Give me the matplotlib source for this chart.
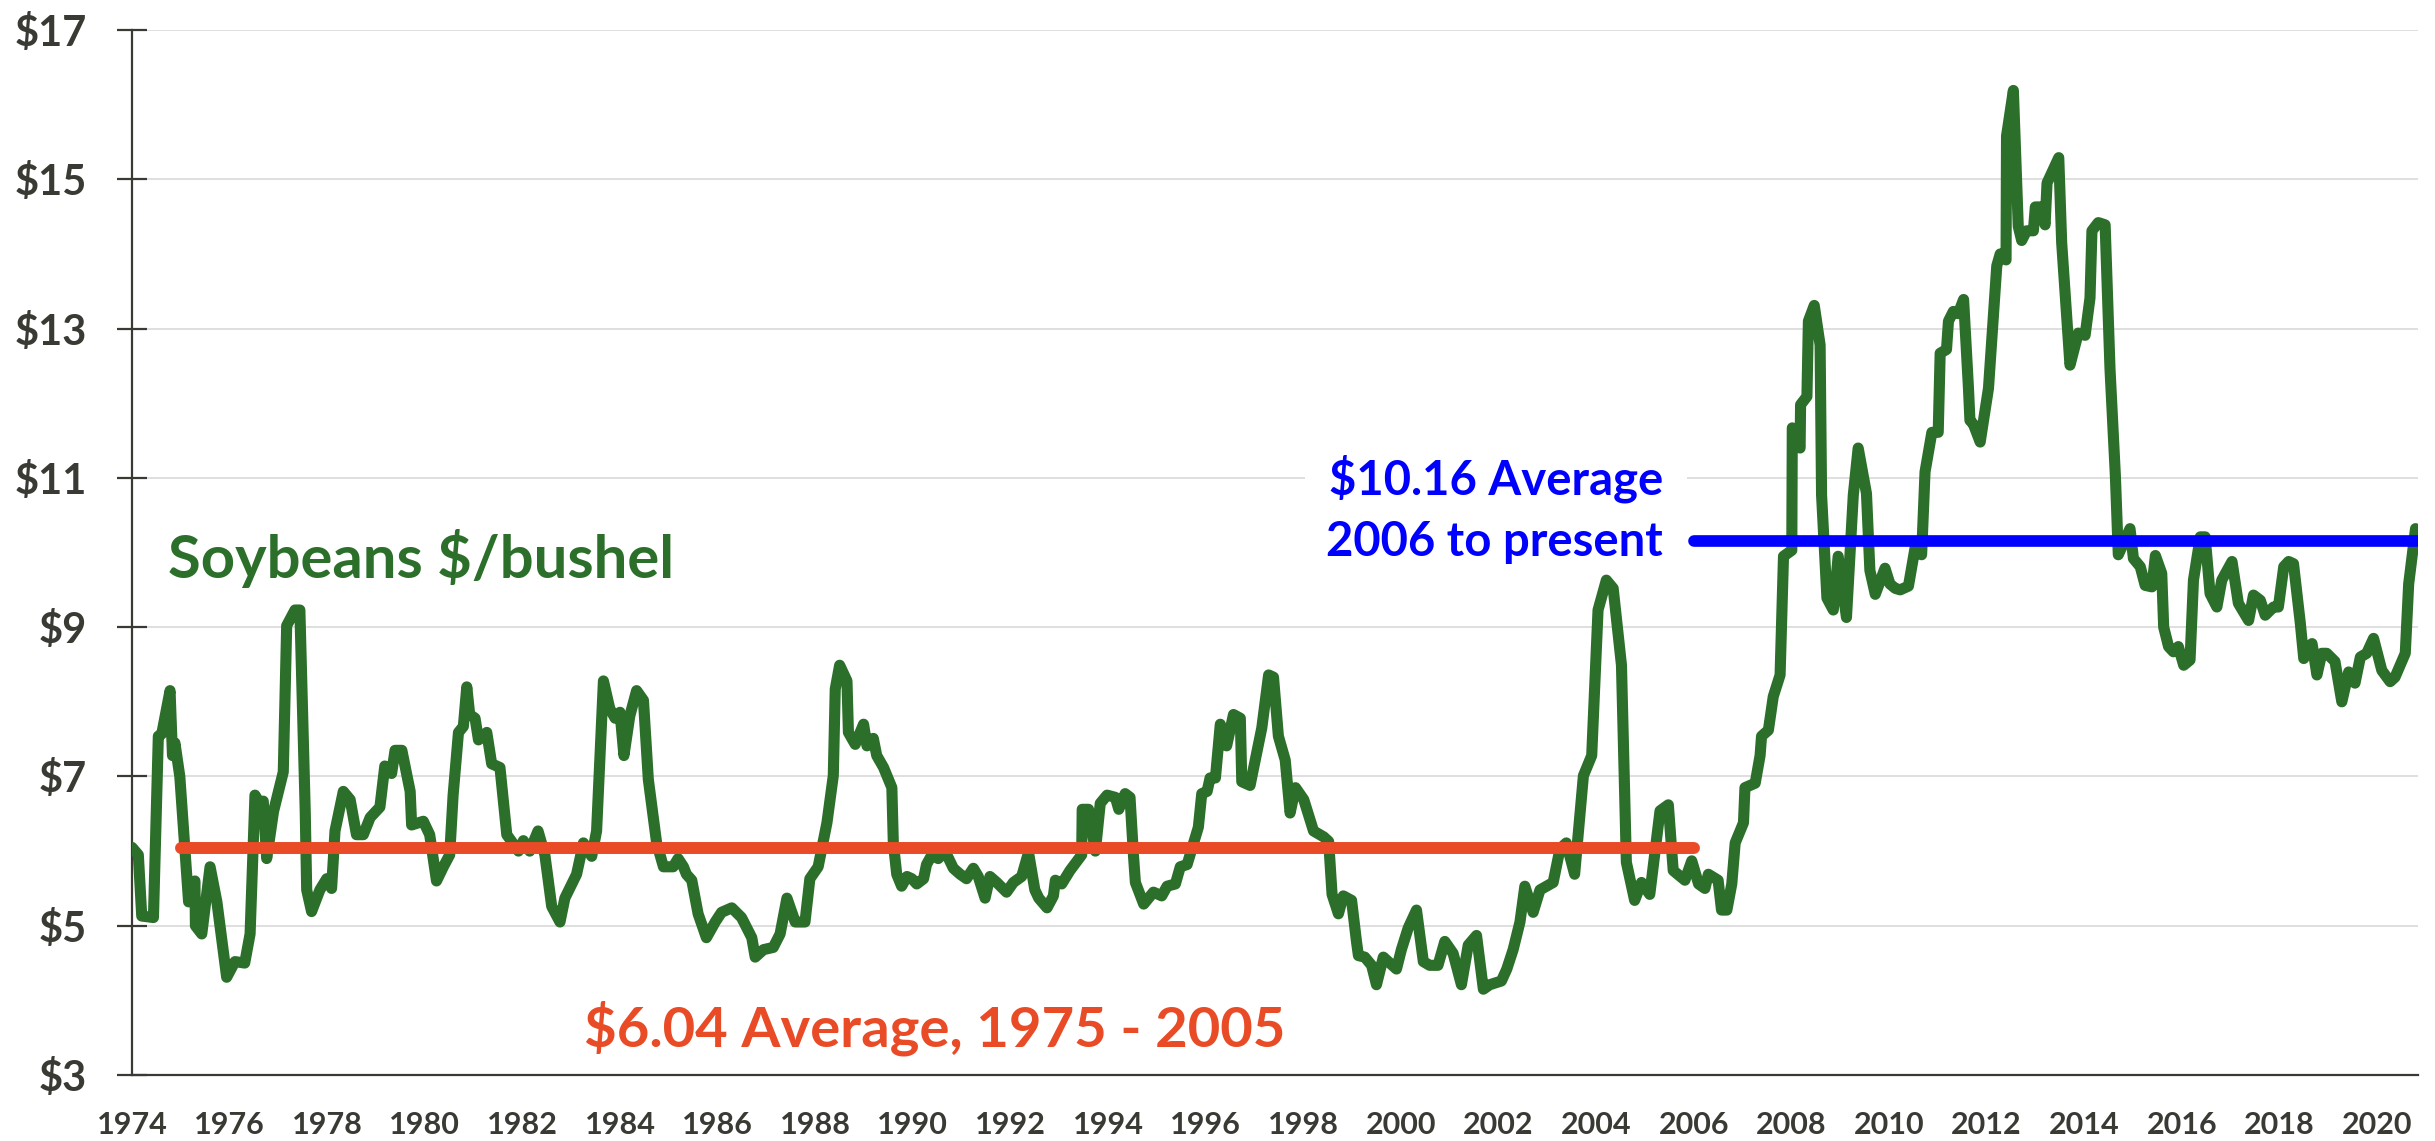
import matplotlib
matplotlib.use("Agg")
import matplotlib.pyplot as plt

# monthly soybean price (decimal year, $/bushel)
years = [
    1974.00, 1974.13, 1974.20, 1974.44, 1974.54, 1974.61, 1974.78, 1974.83, 1974.88, 1974.98,
    1975.12, 1975.16, 1975.29, 1975.30, 1975.43, 1975.60, 1975.74, 1975.94, 1976.11, 1976.31,
    1976.42, 1976.52, 1976.62, 1976.69, 1976.76, 1976.90, 1977.10, 1977.17, 1977.34, 1977.44,
    1977.55, 1977.58, 1977.68, 1977.85, 1977.99, 1978.09, 1978.16, 1978.33, 1978.47, 1978.60,
    1978.74, 1978.88, 1979.08, 1979.18, 1979.32, 1979.39, 1979.53, 1979.70, 1979.73, 1979.97,
    1980.10, 1980.24, 1980.38, 1980.51, 1980.58, 1980.69, 1980.79, 1980.86, 1980.92, 1981.03,
    1981.10, 1981.27, 1981.37, 1981.54, 1981.68, 1981.92, 1982.02, 1982.15, 1982.32, 1982.46,
    1982.60, 1982.77, 1982.87, 1983.11, 1983.25, 1983.42, 1983.52, 1983.66, 1983.79, 1983.90,
    1984.00, 1984.08, 1984.20, 1984.34, 1984.48, 1984.58, 1984.75, 1984.89, 1985.09, 1985.19,
    1985.30, 1985.36, 1985.47, 1985.60, 1985.77, 1985.95, 1986.08, 1986.29, 1986.49, 1986.70,
    1986.77, 1986.94, 1987.14, 1987.28, 1987.42, 1987.59, 1987.79, 1987.89, 1988.06, 1988.24,
    1988.37, 1988.41, 1988.50, 1988.65, 1988.68, 1988.82, 1988.99, 1989.06, 1989.19, 1989.26,
    1989.40, 1989.57, 1989.60, 1989.67, 1989.77, 1989.88, 1989.98, 1990.08, 1990.22, 1990.28,
    1990.39, 1990.52, 1990.66, 1990.83, 1990.97, 1991.10, 1991.24, 1991.34, 1991.48, 1991.58,
    1991.72, 1991.92, 1992.06, 1992.23, 1992.37, 1992.50, 1992.58, 1992.75, 1992.88, 1992.92,
    1993.05, 1993.22, 1993.46, 1993.47, 1993.60, 1993.74, 1993.84, 1993.98, 1994.15, 1994.22,
    1994.35, 1994.45, 1994.52, 1994.56, 1994.73, 1994.93, 1995.10, 1995.21, 1995.38, 1995.48,
    1995.62, 1995.68, 1995.85, 1995.92, 1996.03, 1996.09, 1996.20, 1996.30, 1996.43, 1996.57,
    1996.71, 1996.74, 1996.91, 1997.05, 1997.15, 1997.29, 1997.39, 1997.49, 1997.63, 1997.73,
    1997.84, 1998.01, 1998.21, 1998.42, 1998.52, 1998.59, 1998.72, 1998.82, 1998.99, 1999.09,
    1999.13, 1999.26, 1999.40, 1999.50, 1999.64, 1999.91, 2000.01, 2000.15, 2000.32, 2000.46,
    2000.59, 2000.76, 2000.90, 2001.07, 2001.24, 2001.38, 2001.55, 2001.69, 2001.82, 2002.06,
    2002.17, 2002.30, 2002.44, 2002.54, 2002.71, 2002.85, 2003.12, 2003.26, 2003.39, 2003.56,
    2003.74, 2003.91, 2004.04, 2004.21, 2004.35, 2004.52, 2004.62, 2004.79, 2004.93, 2005.10,
    2005.31, 2005.48, 2005.58, 2005.82, 2005.96, 2006.10, 2006.23, 2006.30, 2006.50, 2006.57,
    2006.68, 2006.78, 2006.85, 2007.02, 2007.05, 2007.26, 2007.36, 2007.39, 2007.53, 2007.63,
    2007.77, 2007.84, 2008.01, 2008.02, 2008.18, 2008.19, 2008.32, 2008.35, 2008.47, 2008.59,
    2008.62, 2008.73, 2008.86, 2008.96, 2009.13, 2009.27, 2009.37, 2009.54, 2009.61, 2009.72,
    2009.92, 2010.02, 2010.13, 2010.23, 2010.40, 2010.54, 2010.67, 2010.74, 2010.88, 2011.01,
    2011.05, 2011.18, 2011.22, 2011.32, 2011.42, 2011.53, 2011.63, 2011.66, 2011.73, 2011.87,
    2012.04, 2012.11, 2012.21, 2012.28, 2012.40, 2012.41, 2012.55, 2012.65, 2012.72, 2012.82,
    2012.96, 2013.00, 2013.10, 2013.20, 2013.24, 2013.48, 2013.54, 2013.71, 2013.88, 2014.02,
    2014.12, 2014.16, 2014.29, 2014.43, 2014.53, 2014.64, 2014.70, 2014.94, 2015.01, 2015.15,
    2015.25, 2015.39, 2015.46, 2015.59, 2015.63, 2015.73, 2015.83, 2015.93, 2016.04, 2016.17,
    2016.24, 2016.38, 2016.48, 2016.58, 2016.72, 2016.82, 2017.03, 2017.16, 2017.37, 2017.47,
    2017.61, 2017.71, 2017.88, 2017.98, 2018.09, 2018.19, 2018.29, 2018.43, 2018.50, 2018.67,
    2018.77, 2018.87, 2018.97, 2019.14, 2019.28, 2019.42, 2019.55, 2019.66, 2019.79, 2019.93,
    2020.10, 2020.27, 2020.37, 2020.58, 2020.65, 2020.79,
]
prices = [
    6.05, 5.95, 5.13, 5.11, 7.54, 7.57, 8.15, 7.28, 7.45, 7.00,
    5.69, 5.32, 5.60, 5.00, 4.89, 5.79, 5.32, 4.31, 4.52, 4.50,
    4.89, 6.75, 6.64, 6.67, 5.90, 6.53, 7.06, 9.02, 9.23, 9.23,
    6.53, 5.48, 5.19, 5.48, 5.63, 5.50, 6.27, 6.80, 6.69, 6.22,
    6.22, 6.45, 6.59, 7.14, 7.04, 7.35, 7.35, 6.80, 6.35, 6.40,
    6.22, 5.60, 5.79, 5.95, 6.75, 7.59, 7.67, 8.20, 7.83, 7.78,
    7.49, 7.59, 7.17, 7.12, 6.22, 6.00, 6.14, 6.00, 6.27, 5.95,
    5.26, 5.05, 5.37, 5.69, 6.11, 5.93, 6.27, 8.28, 7.91, 7.78,
    7.86, 7.28, 7.81, 8.15, 8.02, 6.96, 6.11, 5.79, 5.79, 5.90,
    5.79, 5.69, 5.61, 5.16, 4.84, 5.05, 5.18, 5.24, 5.11, 4.84,
    4.58, 4.68, 4.71, 4.89, 5.37, 5.05, 5.05, 5.63, 5.79, 6.38,
    7.01, 8.17, 8.49, 8.28, 7.59, 7.43, 7.70, 7.41, 7.51, 7.28,
    7.12, 6.85, 6.11, 5.69, 5.53, 5.66, 5.63, 5.56, 5.63, 5.82,
    5.95, 5.90, 6.00, 5.77, 5.69, 5.63, 5.77, 5.66, 5.37, 5.66,
    5.58, 5.45, 5.58, 5.66, 5.98, 5.48, 5.37, 5.24, 5.40, 5.61,
    5.56, 5.74, 5.95, 6.56, 6.56, 6.00, 6.64, 6.75, 6.72, 6.56,
    6.77, 6.72, 5.95, 5.58, 5.29, 5.45, 5.40, 5.53, 5.56, 5.79,
    5.82, 5.95, 6.32, 6.77, 6.80, 6.98, 6.98, 7.70, 7.41, 7.83,
    7.78, 6.93, 6.88, 7.33, 7.65, 8.36, 8.33, 7.54, 7.22, 6.51,
    6.85, 6.69, 6.27, 6.19, 6.13, 5.42, 5.16, 5.40, 5.34, 4.79,
    4.60, 4.58, 4.47, 4.21, 4.58, 4.42, 4.68, 4.97, 5.21, 4.52,
    4.47, 4.47, 4.79, 4.63, 4.21, 4.74, 4.87, 4.15, 4.21, 4.26,
    4.42, 4.68, 5.05, 5.53, 5.18, 5.48, 5.58, 6.03, 6.11, 5.69,
    7.01, 7.28, 9.23, 9.63, 9.52, 8.49, 5.85, 5.34, 5.58, 5.42,
    6.54, 6.62, 5.74, 5.61, 5.87, 5.56, 5.50, 5.69, 5.61, 5.21,
    5.21, 5.56, 6.11, 6.38, 6.85, 6.91, 7.28, 7.54, 7.62, 8.07,
    8.36, 9.95, 10.03, 11.67, 11.40, 11.98, 12.09, 13.10, 13.31, 12.78,
    10.77, 9.39, 9.23, 9.95, 9.13, 10.77, 11.40, 10.79, 9.76, 9.44,
    9.79, 9.58, 9.52, 9.50, 9.55, 10.08, 9.97, 11.08, 11.61, 11.61,
    12.67, 12.72, 13.10, 13.23, 13.20, 13.39, 12.20, 11.77, 11.72, 11.48,
    12.20, 12.88, 13.84, 14.00, 13.92, 15.58, 16.19, 14.37, 14.18, 14.31,
    14.31, 14.63, 14.63, 14.39, 14.95, 15.29, 14.15, 12.51, 12.94, 12.91,
    13.41, 14.31, 14.42, 14.39, 12.46, 11.03, 9.97, 10.32, 9.92, 9.81,
    9.56, 9.54, 9.96, 9.72, 9.00, 8.74, 8.67, 8.74, 8.49, 8.56,
    9.63, 10.21, 10.21, 9.45, 9.27, 9.63, 9.88, 9.32, 9.09, 9.43,
    9.36, 9.16, 9.27, 9.27, 9.81, 9.88, 9.85, 9.05, 8.58, 8.78,
    8.36, 8.65, 8.65, 8.54, 8.00, 8.40, 8.25, 8.60, 8.65, 8.85,
    8.42, 8.27, 8.33, 8.65, 9.58, 10.32,
]

avg_old = 6.04
avg_old_span = [1975.0, 2006.0]
avg_new = 10.16
avg_new_span = [2006.0, 2020.84]

year_ticks = list(range(1974, 2021, 2))
price_ticks = [3, 5, 7, 9, 11, 13, 15, 17]
price_labels = ["$" + str(p) for p in price_ticks]

GREEN = "#2b6f2a"
RED = "#e84b26"
BLUE = "#0000ff"
GREY = "#3a3a35"

plt.rcParams["font.family"] = ["Lato", "DejaVu Sans"]
plt.rcParams["font.weight"] = "bold"

fig = plt.figure(figsize=(24.35, 11.41), dpi=100)
ax = fig.add_axes([0.0542, 0.0578, 0.9388, 0.9159])

ax.set_xlim(1974.0, 2020.84)
ax.set_ylim(3, 17)

ax.grid(axis="y", color="#d9d9d9", linewidth=1.2, zorder=0)
ax.set_axisbelow(True)

ax.plot(years, prices, color=GREEN, linewidth=8.0, solid_joinstyle="round",
        solid_capstyle="round", zorder=3)
ax.plot(avg_old_span, [avg_old, avg_old], color=RED, linewidth=8.6,
        solid_capstyle="round", zorder=4)
ax.plot(avg_new_span, [avg_new, avg_new], color=BLUE, linewidth=8.4,
        solid_capstyle="round", zorder=4)

ax.text(1974.74, 9.66, "Soybeans $/bushel", color=GREEN, fontsize=43,
        fontweight="bold", ha="left", va="baseline", zorder=5)
ax.text(1990.45, 3.63, "$6.04 Average, 1975 - 2005", color=RED, fontsize=40.5,
        fontweight="bold", ha="center", va="center", zorder=5)
ax.text(2005.37, 10.78, "$10.16 Average", color=BLUE, fontsize=34,
        fontweight="bold", ha="right", va="baseline", zorder=5,
        bbox=dict(facecolor="white", edgecolor="none", boxstyle="square,pad=0.5"))
ax.text(2005.37, 9.95, "2006 to present", color=BLUE, fontsize=34,
        fontweight="bold", ha="right", va="baseline", zorder=5)

for side in ["top", "right"]:
    ax.spines[side].set_visible(False)
for side in ["left", "bottom"]:
    ax.spines[side].set_color(GREY)
    ax.spines[side].set_linewidth(1.6)

ax.set_yticks(price_ticks)
ax.set_yticklabels(price_labels)
ax.set_xticks(year_ticks)
ax.set_xticklabels([str(y) for y in year_ticks])
ax.tick_params(axis="y", direction="inout", length=21, width=1.6, color=GREY,
               labelsize=30, labelcolor=GREY, pad=22)
ax.tick_params(axis="x", length=0, labelsize=22, labelcolor=GREY, pad=26)

fig.savefig("out.png", dpi=100)
